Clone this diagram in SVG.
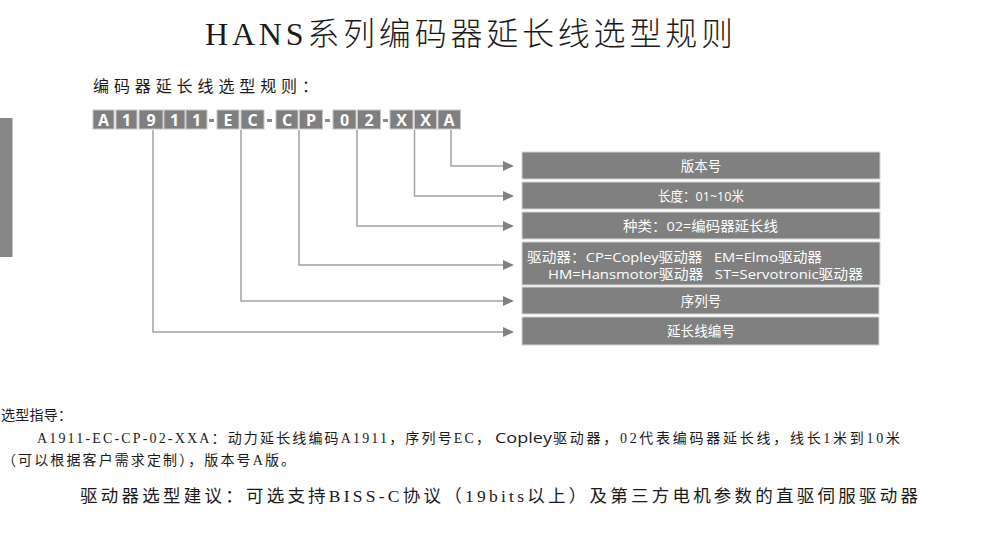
<svg xmlns="http://www.w3.org/2000/svg" width="983" height="534" viewBox="0 0 983 534">
<style>
.bg{fill:#ffffff}
.code{fill:#7f7f7f;stroke:#c8c8c8;stroke-width:1}
.codet{font-family:"Open Sans","Noto Sans CJK SC",sans-serif;font-weight:bold;font-size:16px;fill:#ffffff;text-anchor:middle}
.dash{fill:#8a8a8a}
.box{fill:#808080;stroke:#d4d4d4;stroke-width:1}
.boxt{font-family:"Open Sans","Noto Sans CJK SC",sans-serif;font-size:13.5px;fill:#ffffff;text-anchor:middle}
.boxl{font-family:"Open Sans","Noto Sans CJK SC",sans-serif;font-size:13.5px;fill:#ffffff}
.conn{fill:none;stroke:#a3a3a3;stroke-width:1.5}
.serif{font-family:"Liberation Serif","Noto Sans CJK SC",serif;fill:#1a1a1a}
.sans{font-family:"Open Sans","Noto Sans CJK SC",sans-serif;fill:#1a1a1a}
</style>
<defs>
<marker id="arr" markerUnits="userSpaceOnUse" markerWidth="12" markerHeight="11" refX="0" refY="5" orient="auto">
<path d="M0,0 L11,5 L0,10 z" fill="#808080"/>
</marker>
</defs>
<rect class="bg" x="0" y="0" width="983" height="534"/>

<g id="title">
<text class="serif" x="205" y="45" font-size="32" font-weight="300" textLength="528" lengthAdjust="spacing">HANS系列编码器延长线选型规则</text>
</g>
<g id="subtitle">
<text class="sans" x="93" y="92" font-size="16" textLength="225" lengthAdjust="spacing">编码器延长线选型规则：</text>
</g>
<g id="sidebar">
<rect x="0" y="118" width="12.5" height="139" fill="#878787"/>
</g>

<g id="code">
<rect class="code" x="93" y="110" width="21" height="19"/>
<rect class="code" x="116" y="110" width="21" height="19"/>
<rect class="code" x="139" y="110" width="24" height="19"/>
<rect class="code" x="164" y="110" width="21" height="19"/>
<rect class="code" x="186" y="110" width="21" height="19"/>
<text class="codet" x="103.5" y="125.5">A</text>
<text class="codet" x="126.5" y="125.5">1</text>
<text class="codet" x="151" y="125.5">9</text>
<text class="codet" x="174.5" y="125.5">1</text>
<text class="codet" x="196.5" y="125.5">1</text>
<rect class="dash" x="209" y="119" width="5" height="3"/>
<rect class="code" x="217" y="110" width="22" height="19"/>
<rect class="code" x="241" y="110" width="23" height="19"/>
<text class="codet" x="228" y="125.5">E</text>
<text class="codet" x="252.5" y="125.5">C</text>
<rect class="dash" x="267" y="119" width="5" height="3"/>
<rect class="code" x="276" y="110" width="22" height="19"/>
<rect class="code" x="299.5" y="110" width="23" height="19"/>
<text class="codet" x="287" y="125.5">C</text>
<text class="codet" x="311" y="125.5">P</text>
<rect class="dash" x="325" y="119" width="5" height="3"/>
<rect class="code" x="333" y="110" width="23" height="19"/>
<rect class="code" x="357.5" y="110" width="23" height="19"/>
<text class="codet" x="344.5" y="125.5">0</text>
<text class="codet" x="369" y="125.5">2</text>
<rect class="dash" x="383" y="119" width="5" height="3"/>
<rect class="code" x="390" y="110" width="23" height="19"/>
<rect class="code" x="414.5" y="110" width="22" height="19"/>
<rect class="code" x="438" y="110" width="22.5" height="19"/>
<text class="codet" x="401.5" y="125.5">X</text>
<text class="codet" x="425.5" y="125.5">X</text>
<text class="codet" x="449" y="125.5">A</text>
</g>

<g id="connectors">
<path class="conn" d="M451,130 V166 H503" marker-end="url(#arr)"/>
<path class="conn" d="M414.5,130 V196 H503" marker-end="url(#arr)"/>
<path class="conn" d="M357,130 V226 H503" marker-end="url(#arr)"/>
<path class="conn" d="M299,130 V265 H503" marker-end="url(#arr)"/>
<path class="conn" d="M241,130 V301 H503" marker-end="url(#arr)"/>
<path class="conn" d="M153,130 V332 H503" marker-end="url(#arr)"/>
</g>

<g id="n-version">
<rect class="box" x="522" y="152" width="358" height="27"/>
<text class="boxt" x="701" y="170.5">版本号</text>
</g>
<g id="n-length">
<rect class="box" x="522" y="182" width="358" height="27"/>
<text class="boxt" x="701" y="200.5" textLength="86" lengthAdjust="spacingAndGlyphs">长度：01~10米</text>
</g>
<g id="n-type">
<rect class="box" x="522" y="212" width="358" height="27"/>
<text class="boxt" x="700.5" y="230.5" textLength="155" lengthAdjust="spacingAndGlyphs">种类：02=编码器延长线</text>
</g>
<g id="n-driver">
<rect class="box" x="522" y="242" width="358" height="43"/>
<text class="boxl" x="527" y="262" textLength="295" lengthAdjust="spacingAndGlyphs" xml:space="preserve">驱动器：CP=Copley驱动器   EM=Elmo驱动器</text>
<text class="boxl" x="548" y="279" textLength="315" lengthAdjust="spacingAndGlyphs" xml:space="preserve">HM=Hansmotor驱动器   ST=Servotronic驱动器</text>
</g>
<g id="n-serial">
<rect class="box" x="522" y="287" width="357" height="27"/>
<text class="boxt" x="701" y="305.5">序列号</text>
</g>
<g id="n-number">
<rect class="box" x="522" y="317" width="357" height="28"/>
<text class="boxt" x="701" y="336" textLength="68" lengthAdjust="spacingAndGlyphs">延长线编号</text>
</g>

<g id="guide">
<text class="serif" x="1" y="420" font-size="14" textLength="71" lengthAdjust="spacing">选型指导：</text>
<text class="serif" x="37" y="443" font-size="14" textLength="453" lengthAdjust="spacing">A1911-EC-CP-02-XXA：动力延长线编码A1911，序列号EC，</text>
<text class="sans" x="495" y="443" font-size="14.5" textLength="57" lengthAdjust="spacingAndGlyphs">Copley</text>
<text class="serif" x="553" y="443" font-size="14" textLength="347" lengthAdjust="spacing">驱动器，02代表编码器延长线，线长1米到10米</text>
<text class="serif" x="2" y="465" font-size="14" textLength="293" lengthAdjust="spacing">（可以根据客户需求定制），版本号A版。</text>
<text class="serif" x="80" y="502" font-size="17.5" textLength="838" lengthAdjust="spacing">驱动器选型建议：可选支持BISS-C协议（19bits以上）及第三方电机参数的直驱伺服驱动器</text>
</g>
</svg>
